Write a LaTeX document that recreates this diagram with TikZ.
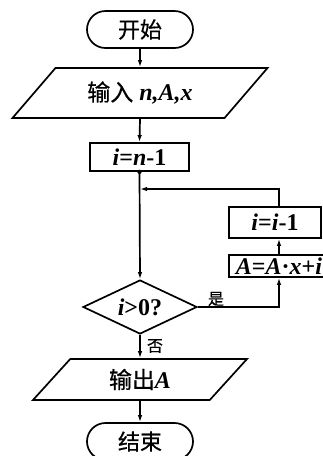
\documentclass[tikz,border=0pt]{standalone}
\usepackage{fontspec}
\setmainfont{Liberation Serif}
\newfontfamily\cjk[FakeBold=0.6]{Noto Sans CJK SC}
\usetikzlibrary{shapes.misc,shapes.geometric,arrows.meta}
\newcommand{\V}[1]{{\bfseries\itshape #1}}
\newcommand{\N}[1]{{\bfseries #1}}
\tikzset{
  ln/.style={line width=1.7pt},
  arr/.style={ln,-{Latex[length=7pt,width=4.5pt]}},
  term/.style={rounded rectangle,draw,ln,minimum width=106pt,minimum height=37pt,inner sep=0pt,font=\cjk\fontsize{22}{22}\selectfont},
  proc/.style={rectangle,draw,ln,inner sep=0pt,font=\fontsize{24}{24}\selectfont},
  io/.style={trapezium,draw,ln,trapezium stretches body,inner sep=0pt,font=\fontsize{24}{24}\selectfont},
  dec/.style={diamond,draw,ln,inner sep=0pt,minimum width=114pt,minimum height=54pt,aspect=2.11,font=\fontsize{24}{24}\selectfont},
  lbl/.style={inner sep=0pt,font=\cjk\fontsize{16}{16}\selectfont}
}
\begin{document}
\begin{tikzpicture}[x=1pt,y=-1pt]
\useasboundingbox (0,0) rectangle (323,456);
\node[term] (start) at (140,29.5) {开始};
\node[io,minimum width=255pt,minimum height=50pt,trapezium left angle=28.27,trapezium right angle=151.73] (in) at (140,93) {{\cjk\fontsize{23}{23}\selectfont 输入} \V{n,A,x}};
\node[proc,minimum width=99pt,minimum height=28pt] (b1) at (139.5,157) {\V{i}\N{=}\V{n}\N{-1}};
\node[dec] (dia) at (140,307) {\V{i}\N{>0?}};
\node[proc,minimum width=92pt,minimum height=31pt] (bdec) at (275,222.5) {\V{i}\N{=}\V{i}\N{-1}};
\node[proc,minimum width=100pt,minimum height=22pt] (bA) at (279,266) {\V{A}\N{=}\V{A}\N{·}\V{x}\N{+}\V{i}};
\node[io,minimum width=214pt,minimum height=41pt,trapezium left angle=29.66,trapezium right angle=150.34] (out) at (140,379.5) {{\cjk\fontsize{23}{23}\selectfont 输出}\V{A}};
\node[term] (end) at (140,441.5) {结束};
\coordinate (j) at (140,189);
\node[lbl] (yes) at (216,299) {是};
\node[lbl] (no) at (155,346) {否};
\draw[arr] (start.south) -- (in.north);
\draw[arr] (in.south) -- (b1.north);
\fill (b1.south) circle (2.2pt);
\draw[arr] (b1.south) -- (dia.north);
\draw[arr] (dia.east) -| (bA.south);
\draw[arr] (bA.north) -- (bA.north |- bdec.south);
\draw[arr] (bA.north |- bdec.north) |- (j);
\draw[arr] (dia.south) -- (out.north);
\draw[arr] (out.south) -- (end.north);
\end{tikzpicture}
\end{document}
